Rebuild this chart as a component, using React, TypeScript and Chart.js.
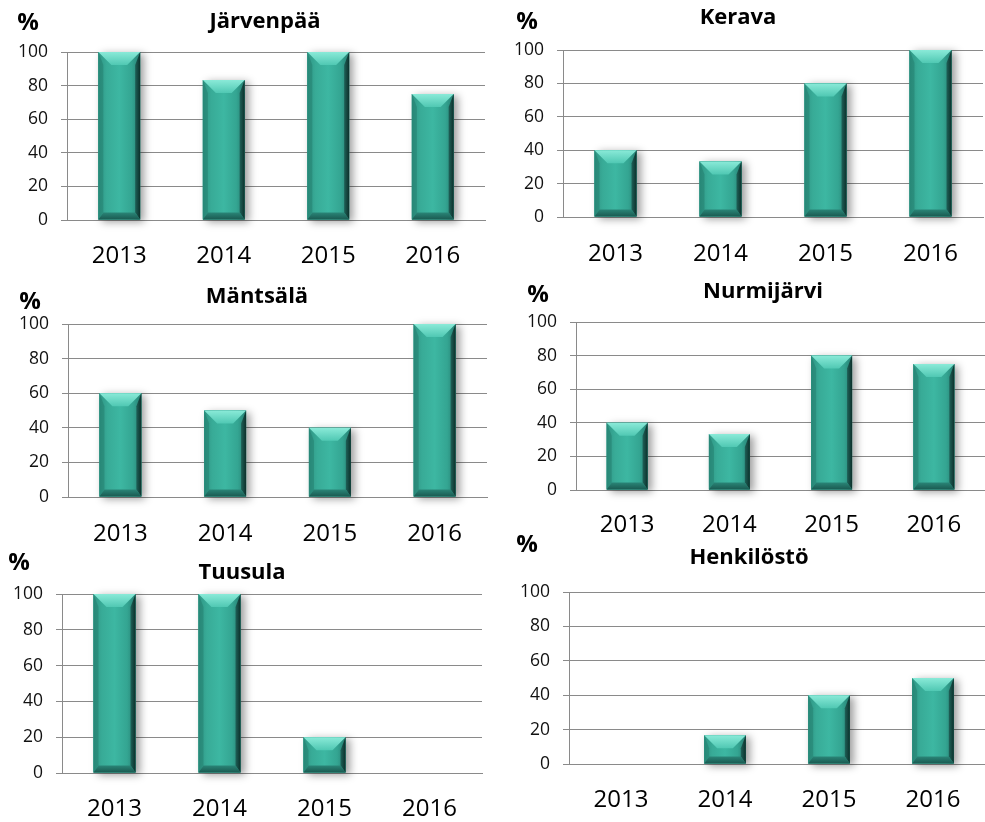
import React, { useEffect, useRef } from "react";
import { Chart, registerables } from "chart.js";

Chart.register(...registerables);

// ---- data ----
const years = ["2013", "2014", "2015", "2016"];
const jarvenpaa = [100, 83.3, 100, 75];
const kerava = [40, 33.3, 80, 100];
const mantsala = [60, 50, 40, 100];
const nurmijarvi = [40, 33.3, 80, 75];
const tuusula = [100, 100, 20, 0];
const henkilosto = [0, 16.7, 40, 50];
const yMin = 0;
const yMax = 100;
const yStep = 20;
const unitLabel = "%";

// ---- layout (page pixels) ----
type Panel = {
  title: string;
  values: number[];
  cell: [number, number, number, number]; // left, top, right, bottom of the canvas
  area: [number, number, number, number]; // left, top, right, bottom of the plot area
  titleAt: [number, number];
  unitAt: [number, number];
  labelY: number;
};

const panels: Panel[] = [
  { title: "Järvenpää", values: jarvenpaa, cell: [0, 0, 490, 285], area: [67, 52, 485, 220], titleAt: [265, 22], unitAt: [28, 23], labelY: 254 },
  { title: "Kerava", values: kerava, cell: [490, 0, 985, 285], area: [563, 50, 983, 217], titleAt: [738, 18], unitAt: [527, 22], labelY: 252 },
  { title: "Mäntsälä", values: mantsala, cell: [0, 265, 490, 560], area: [68, 324, 487, 497], titleAt: [257, 297], unitAt: [30, 302], labelY: 532 },
  { title: "Nurmijärvi", values: nurmijarvi, cell: [490, 265, 985, 560], area: [576, 322, 985, 490], titleAt: [763, 292], unitAt: [538, 295], labelY: 523 },
  { title: "Tuusula", values: tuusula, cell: [0, 530, 490, 822], area: [62, 594, 482, 773], titleAt: [242, 573], unitAt: [19, 563], labelY: 807 },
  { title: "Henkilöstö", values: henkilosto, cell: [490, 530, 985, 822], area: [569, 592, 985, 764], titleAt: [749, 558], unitAt: [527, 545], labelY: 798 },
];

const FONT = '"Open Sans", "Liberation Sans", sans-serif';
const GRID = "#8a8a8a";
const X_FONT_SIZE = 24;

// Beveled teal bars with a soft drop shadow, painted over the bar elements.
function barBoxes(chart: any) {
  const meta = chart.getDatasetMeta(0);
  return meta.data
    .map((el: any) => el.getProps(["x", "y", "base", "width"], true))
    .filter((b: any) => b.base - b.y >= 1);
}

function poly(ctx: CanvasRenderingContext2D, pts: number[][], fill: any) {
  ctx.beginPath();
  ctx.moveTo(pts[0][0], pts[0][1]);
  for (let i = 1; i < pts.length; i++) ctx.lineTo(pts[i][0], pts[i][1]);
  ctx.closePath();
  ctx.fillStyle = fill;
  ctx.fill();
}

const bevelPlugin = {
  id: "bevelBars",
  beforeDatasetsDraw(chart: any) {
    const ctx: CanvasRenderingContext2D = chart.ctx;
    for (const b of barBoxes(chart)) {
      ctx.save();
      ctx.shadowColor = "rgba(0,0,0,0.38)";
      ctx.shadowBlur = 8;
      ctx.shadowOffsetX = 4;
      ctx.shadowOffsetY = 2;
      ctx.fillStyle = "#2a8c7d";
      ctx.fillRect(b.x - b.width / 2, b.y, b.width, b.base - b.y);
      ctx.restore();
    }
  },
  afterDatasetsDraw(chart: any) {
    const ctx: CanvasRenderingContext2D = chart.ctx;
    for (const b of barBoxes(chart)) {
      const l = b.x - b.width / 2;
      const r = b.x + b.width / 2;
      const top = b.y;
      const base = b.base;
      const h = base - top;
      const bt = Math.min(13, h / 2);
      const bb = Math.min(7, h / 2);
      const s = 5;
      const inset = Math.min(13, b.width / 2 - 1);

      ctx.save();
      // body
      const body = ctx.createLinearGradient(l, 0, r, 0);
      body.addColorStop(0, "#2f9584");
      body.addColorStop(0.2, "#38ab97");
      body.addColorStop(0.5, "#3db7a2");
      body.addColorStop(0.8, "#34a592");
      body.addColorStop(1, "#267f72");
      ctx.fillStyle = body;
      ctx.fillRect(l, top, r - l, h);

      // left edge
      poly(ctx, [[l, top], [l + s, top + bt], [l + s, base - bb], [l, base]], "rgba(30,115,100,0.4)");
      // right edge
      const re = ctx.createLinearGradient(r - s, 0, r, 0);
      re.addColorStop(0, "#1f6158");
      re.addColorStop(1, "#0c302b");
      poly(ctx, [[r, top], [r - s, top + bt], [r - s, base - bb], [r, base]], re);
      // bottom edge
      const be = ctx.createLinearGradient(0, base - bb, 0, base);
      be.addColorStop(0, "#2a8577");
      be.addColorStop(1, "#1a5a51");
      poly(ctx, [[l, base], [r, base], [r - s, base - bb], [l + s, base - bb]], be);
      // top highlight
      const te = ctx.createLinearGradient(0, top, 0, top + bt);
      te.addColorStop(0, "#8aead8");
      te.addColorStop(1, "#50c8b3");
      poly(ctx, [[l, top], [r, top], [r - inset, top + bt], [l + inset, top + bt]], te);
      ctx.restore();
    }
  },
};

// Title and unit label drawn at fixed spots of each panel.
const captionPlugin = {
  id: "captions",
  afterDraw(chart: any) {
    const o = chart.options.plugins.captions;
    const ctx: CanvasRenderingContext2D = chart.ctx;
    ctx.save();
    ctx.fillStyle = "#000";
    ctx.textAlign = "center";
    ctx.textBaseline = "middle";
    ctx.font = `bold 22px ${FONT}`;
    ctx.fillText(o.title, o.titleX, o.titleY);
    ctx.font = `bold 24px ${FONT}`;
    ctx.fillText(o.unit, o.unitX, o.unitY);
    ctx.restore();
  },
};

function PanelChart({ p }: { p: Panel }) {
  const ref = useRef<HTMLCanvasElement | null>(null);
  const [cl, ct, cr, cb] = p.cell;
  const [al, at, ar, ab] = p.area;
  const w = cr - cl;
  const h = cb - ct;

  useEffect(() => {
    if (!ref.current) return;
    const chart = new Chart(ref.current, {
      type: "bar",
      data: {
        labels: years,
        datasets: [
          {
            data: p.values,
            backgroundColor: "#34a894",
            borderWidth: 0,
            barPercentage: 0.4,
            categoryPercentage: 1,
          },
        ],
      },
      options: {
        responsive: false,
        animation: false,
        events: [],
        layout: { padding: { left: 0, top: at - ct, right: cr - ar, bottom: 0 } },
        plugins: {
          legend: { display: false },
          tooltip: { enabled: false },
          captions: {
            title: p.title,
            unit: unitLabel,
            titleX: p.titleAt[0] - cl,
            titleY: p.titleAt[1] - ct,
            unitX: p.unitAt[0] - cl,
            unitY: p.unitAt[1] - ct,
          },
        } as any,
        scales: {
          x: {
            grid: { display: false },
            border: { display: true, color: GRID, width: 1 },
            ticks: {
              color: "#000",
              font: { family: FONT, size: X_FONT_SIZE },
              padding: p.labelY - ab - X_FONT_SIZE * 0.6 - 6,
              maxRotation: 0,
            },
            afterFit: (scale: any) => {
              scale.height = cb - ab;
            },
          },
          y: {
            min: yMin,
            max: yMax,
            grid: { color: GRID, lineWidth: 1, drawTicks: true, tickLength: 6, tickColor: GRID },
            border: { display: true, color: GRID, width: 1 },
            ticks: {
              stepSize: yStep,
              color: "#111",
              padding: 13,
              font: { family: FONT, size: 17.5 },
            },
            afterFit: (scale: any) => {
              scale.width = al - cl;
            },
          },
        },
      },
      plugins: [bevelPlugin, captionPlugin],
    });
    return () => chart.destroy();
  }, []);

  return (
    <canvas
      ref={ref}
      width={w}
      height={h}
      style={{ position: "absolute", left: cl, top: ct, width: w, height: h }}
    />
  );
}

export default function App() {
  useEffect(() => {
    document.body.style.margin = "0";
  }, []);
  return (
    <div style={{ position: "absolute", left: 0, top: 0, width: 985, height: 822, background: "#fff" }}>
      {panels.map((p) => (
        <PanelChart key={p.title} p={p} />
      ))}
    </div>
  );
}
